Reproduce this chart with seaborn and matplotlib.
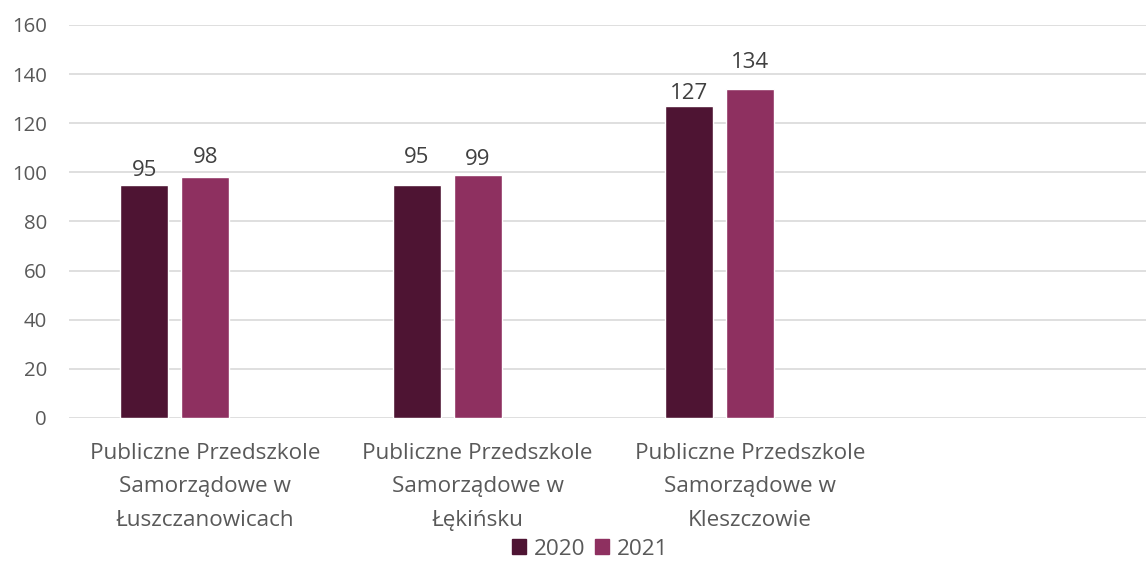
import pandas as pd
import numpy as np
import matplotlib
matplotlib.use("Agg")
import matplotlib.pyplot as plt
import seaborn as sns
from matplotlib.patches import Patch

categories = [
    "Publiczne Przedszkole\nSamorządowe w\nŁuszczanowicach",
    "Publiczne Przedszkole\nSamorządowe w\nŁękińsku",
    "Publiczne Przedszkole\nSamorządowe w\nKleszczowie",
]
values_2020 = [95, 95, 127]
values_2021 = [98, 99, 134]
years = ["2020", "2021"]
colors = {"2020": "#4E1433", "2021": "#8E3060", " ": "#FFFFFF"}
# label offsets above the bars (points), the original labels sit unevenly
label_pad = {"2020": [2.7, 12.0, 1.2], "2021": [7.0, 3.4, 11.3]}

df = pd.DataFrame({
    "Przedszkole": categories * 2,
    "Rok": [years[0]] * 3 + [years[1]] * 3,
    "Liczba": values_2020 + values_2021,
})

sns.set_style("white")
plt.rcParams["font.family"] = ["Open Sans", "DejaVu Sans"]

fig = plt.figure(figsize=(11.46, 5.81), dpi=100)
# plot area runs a bit past the right edge, like the cropped original
ax = fig.add_axes([0.0602, 0.2806, 0.951, 0.6764])

# empty 4th category and empty 3rd series keep the spacing of the original
sns.barplot(data=df, x="Przedszkole", y="Liczba", hue="Rok",
            order=categories + [""], hue_order=years + [" "],
            palette=colors, width=0.672, gap=0.213, ax=ax,
            errorbar=None, legend=False, saturation=1)

for year, cont in zip(years, ax.containers):
    bars = [b for b in cont if np.isfinite(b.get_height()) and b.get_height() > 0]
    for b, pad in zip(bars, label_pad[year]):
        ax.annotate(f"{b.get_height():.0f}", (b.get_x() + b.get_width() / 2, b.get_height()),
                    xytext=(0, pad), textcoords="offset points", ha="center", va="bottom",
                    fontsize=16, color="#404040")

ax.set_ylim(0, 160)
ax.set_yticks(range(0, 161, 20))
ax.grid(axis="y", color="#D9D9D9", linewidth=1.2)
ax.set_axisbelow(True)
for s in ax.spines.values():
    s.set_visible(False)
ax.set_xlabel("")
ax.set_ylabel("")
ax.tick_params(axis="both", length=0, labelcolor="#595959")
ax.tick_params(axis="y", labelsize=14.7, pad=16)
ax.tick_params(axis="x", labelsize=16.2, pad=18)
for lbl in ax.get_xticklabels():
    lbl.set_linespacing(1.78)

handles = [Patch(color=colors[y], label=y) for y in years]
fig.legend(handles=handles, loc="center", bbox_to_anchor=(0.515, 0.055), ncol=2,
           frameon=False, fontsize=16.2, handlelength=0.62, handleheight=0.62,
           handletextpad=0.35, columnspacing=0.4, labelcolor="#595959")

fig.savefig("out.png", dpi=100)
